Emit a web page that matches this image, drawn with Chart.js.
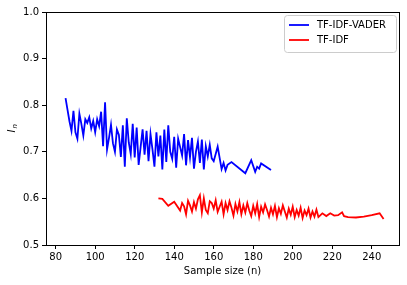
<!DOCTYPE html>
<html>
<head>
<script src="https://cdn.jsdelivr.net/npm/chart.js"></script>
<style>
  html, body { margin: 0; padding: 0; background: #fff; }
  #wrap { width: 407px; height: 285px; position: relative; }
</style>
</head>
<body>
<div id="wrap"><canvas id="c" width="407" height="285"></canvas></div>
<script>
// TF-IDF-VADER
const vaderN = [85,86,87,88,89,90,91,92,93,94,95,96,97,98,99,
  100,101,102,103,104,105,106,107,108,109,110,111,112,113,114,115,116,117,118,119,
  120,121,122,123,124,125,126,127,128,129,130,131,132,133,134,135,136,137,138,139,
  140,141,142,143,144,145,146,147,148,149,150,151,152,153,154,155,156,157,158,159,
  160,162,164,165,166,167,169,176,179,181,182,183,184,189];
const vaderI = [0.815,0.790,0.765,0.745,0.788,0.742,0.728,0.782,0.760,0.735,0.770,0.762,0.774,0.750,0.766,
  0.742,0.770,0.755,0.786,0.712,0.806,0.705,0.730,0.758,0.718,0.700,0.748,0.736,0.689,0.757,0.668,0.772,0.720,0.695,0.760,
  0.688,0.752,0.672,0.710,0.748,0.694,0.745,0.680,0.738,0.705,0.668,0.742,0.690,0.735,0.662,0.748,0.678,0.757,0.700,0.685,
  0.732,0.666,0.728,0.710,0.692,0.738,0.671,0.725,0.688,0.730,0.664,0.700,0.722,0.676,0.726,0.662,0.712,0.690,0.715,0.686,
  0.680,0.711,0.663,0.676,0.660,0.672,0.678,0.654,0.682,0.657,0.668,0.664,0.675,0.661];

// TF-IDF
const tfidfN = [132,134,137,140,143,144,145,146,147,148,149,150,151,152,153,154,155,156,157,158,159,
  160,161,162,163,164,165,166,167,168,169,170,171,172,173,174,175,176,177,178,179,
  180,181,182,183,184,185,186,187,188,189,190,191,192,193,194,195,196,197,198,199,
  200,201,202,203,204,205,206,207,208,209,210,211,212,213,215,217,219,221,223,225,226,228,232,236,240,244,246];
const tfidfI = [0.600,0.599,0.584,0.593,0.574,0.590,0.583,0.566,0.595,0.585,0.572,0.592,0.578,0.598,0.607,0.570,0.600,0.575,0.568,0.594,0.590,
  0.578,0.596,0.571,0.582,0.593,0.566,0.590,0.575,0.594,0.580,0.563,0.588,0.572,0.592,0.566,0.585,0.570,0.590,0.574,0.562,
  0.584,0.568,0.588,0.560,0.582,0.570,0.587,0.575,0.561,0.580,0.566,0.584,0.560,0.579,0.567,0.585,0.572,0.559,0.578,0.565,
  0.582,0.560,0.575,0.563,0.580,0.558,0.574,0.564,0.578,0.559,0.572,0.561,0.576,0.560,0.568,0.562,0.568,0.563,0.564,0.570,0.562,0.560,0.559,0.561,0.564,0.568,0.556];

const xTicks = [80,100,120,140,160,180,200,220,240];
const yTicks = [0.5,0.6,0.7,0.8,0.9,1.0];
const seriesNames = ['TF-IDF-VADER', 'TF-IDF'];
const seriesColors = ['#0000ff', '#ff0000'];

const FONT = 'DejaVu Sans';

const framePlugin = {
  id: 'frame',
  afterDraw(chart) {
    const ctx = chart.ctx, a = chart.chartArea;
    ctx.save();
    ctx.strokeStyle = '#000';
    ctx.lineWidth = 1;
    ctx.strokeRect(Math.round(a.left) + 0.5, Math.round(a.top) + 0.5,
      Math.round(a.right - a.left), Math.round(a.bottom - a.top));

    // legend
    const lx = 284, ly = 15, lw = 112, lh = 37;
    ctx.fillStyle = 'rgba(255,255,255,0.8)';
    ctx.strokeStyle = '#cccccc';
    ctx.beginPath();
    ctx.roundRect(lx + 0.5, ly + 0.5, lw, lh, 3);
    ctx.fill();
    ctx.stroke();
    ctx.font = '10px "' + FONT + '"';
    ctx.textBaseline = 'middle';
    ctx.textAlign = 'left';
    seriesNames.forEach((name, i) => {
      const yy = 25 + i * 15;
      ctx.strokeStyle = seriesColors[i];
      ctx.lineWidth = 1.8;
      ctx.beginPath();
      ctx.moveTo(289, yy);
      ctx.lineTo(309, yy);
      ctx.stroke();
      ctx.fillStyle = '#000';
      ctx.fillText(name, 317, yy);
    });

    // axis titles
    ctx.fillStyle = '#000';
    ctx.textAlign = 'center';
    ctx.font = '10px "' + FONT + '"';
    ctx.fillText('Sample size (n)', (a.left + a.right) / 2, 271);
    ctx.save();
    ctx.translate(12, (a.top + a.bottom) / 2);
    ctx.rotate(-Math.PI / 2);
    ctx.font = 'italic 10px "' + FONT + '"';
    ctx.textAlign = 'left';
    ctx.fillText('I', -4, 0);
    ctx.font = 'italic 7px "' + FONT + '"';
    ctx.fillText('n', 0, 3);
    ctx.restore();
    ctx.restore();
  }
};

new Chart(document.getElementById('c'), {
  type: 'line',
  data: {
    datasets: [
      {
        label: seriesNames[0],
        data: vaderN.map((n, i) => ({ x: n, y: vaderI[i] })),
        borderColor: seriesColors[0],
        borderWidth: 1.8,
        pointRadius: 0,
        tension: 0
      },
      {
        label: seriesNames[1],
        data: tfidfN.map((n, i) => ({ x: n, y: tfidfI[i] })),
        borderColor: seriesColors[1],
        borderWidth: 1.8,
        pointRadius: 0,
        tension: 0
      }
    ]
  },
  options: {
    responsive: false,
    animation: false,
    layout: { padding: { left: 0, top: 12, right: 8, bottom: 0 } },
    plugins: { legend: { display: false }, tooltip: { enabled: false } },
    scales: {
      x: {
        type: 'linear',
        min: 75.1,
        max: 253.8,
        afterBuildTicks: s => { s.ticks = xTicks.map(v => ({ value: v })); },
        afterFit: s => { s.height = 40; },
        grid: { drawOnChartArea: false, drawTicks: true, tickLength: 4, color: '#000' },
        border: { display: true, color: '#000' },
        ticks: { color: '#000', padding: 2, maxRotation: 0, font: { family: FONT, size: 10 } }
      },
      y: {
        min: 0.5,
        max: 1.0,
        afterBuildTicks: s => { s.ticks = yTicks.map(v => ({ value: v })); },
        afterFit: s => { s.width = 46; },
        grid: { drawOnChartArea: false, drawTicks: true, tickLength: 4, color: '#000' },
        border: { display: true, color: '#000' },
        ticks: { color: '#000', padding: 3, font: { family: FONT, size: 10 }, callback: v => v.toFixed(1) }
      }
    }
  },
  plugins: [framePlugin]
});
</script>
</body>
</html>
